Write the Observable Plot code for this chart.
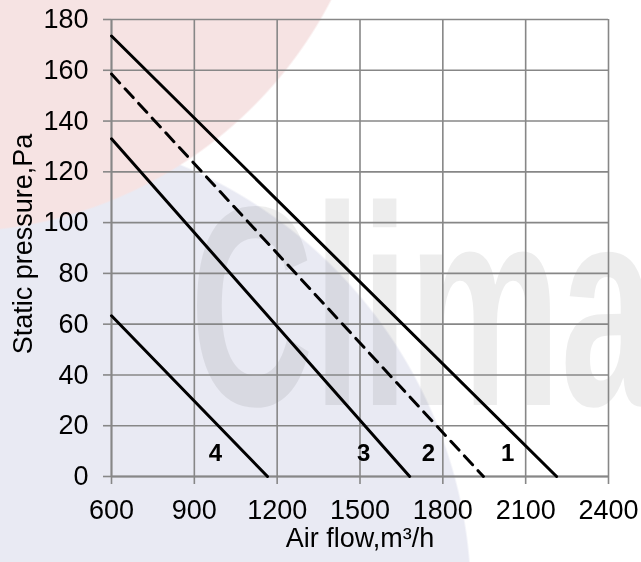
<!DOCTYPE html>
<html>
<head>
<meta charset="utf-8">
<script src="https://cdn.jsdelivr.net/npm/d3@7"></script>
<script src="https://cdn.jsdelivr.net/npm/@observablehq/plot@0.6"></script>
<style>
  html, body { margin: 0; padding: 0; background: #fff; }
  #wrap {
    position: relative; width: 641px; height: 562px; overflow: hidden;
    background:
      radial-gradient(circle at -50px -197px, #f6e3e3 0 428px, rgba(255,255,255,0) 430px),
      radial-gradient(circle at 0px 600px, #e9eaf3 0 470px, rgba(255,255,255,0) 472px),
      #fff;
  }
  #wm { position: absolute; left: 0; top: 0; }
  #chart { position: absolute; left: 0; top: 0; }
</style>
</head>
<body>
<div id="wrap">
  <canvas id="wm" width="641" height="562"></canvas>
  <div id="chart"></div>
</div>
<script>
// Curve identifiers
const series = ["1", "2", "3", "4"];
// Each curve: straight line from start point to end point (flow m3/h, pressure Pa)
const startFlow = [600, 600, 600, 600];
const startPressure = [173.5, 158.5, 133, 63.3];
const endFlow = [2212, 1947, 1680, 1165];
const endPressure = [0, 0, 0, 0];
const dashedCurve = [false, true, false, false];
// Curve number labels
const labelFlow = [2035, 1748, 1513, 976];
const labelPressure = [9, 9, 9, 9];
// Axes
const xTicks = [600, 900, 1200, 1500, 1800, 2100, 2400];
const yTicks = [0, 20, 40, 60, 80, 100, 120, 140, 160, 180];
const xTitle = "Air flow,m³/h";
const yTitle = "Static pressure,Pa";

// Background watermark (logo image in the reference), painted as pixels
(function () {
  const c = document.getElementById("wm").getContext("2d");
  c.save();
  c.translate(190, 405);
  c.scale(0.6, 1);
  c.font = 'bold 285px "Liberation Sans", Arial, sans-serif';
  c.fillStyle = "rgba(0,0,0,0.07)";
  c.textBaseline = "alphabetic";
  c.fillText("Climar", 0, 0);
  c.restore();
})();

const points = series.flatMap((s, i) => [
  {s, flow: startFlow[i], p: startPressure[i], dashed: dashedCurve[i]},
  {s, flow: endFlow[i], p: endPressure[i], dashed: dashedCurve[i]}
]);
const labels = series.map((s, i) => ({s, flow: labelFlow[i], p: labelPressure[i]}));

const gridColor = "#878787";
const fs = 27;

const chart = Plot.plot({
  width: 641,
  height: 562,
  marginLeft: 111,
  marginRight: 33,
  marginTop: 19,
  marginBottom: 86,
  style: {
    background: "transparent",
    fontFamily: '"Liberation Sans", Arial, sans-serif',
    fontSize: fs + "px",
    color: "#000"
  },
  x: {domain: [600, 2400]},
  y: {domain: [0, 180]},
  marks: [
    Plot.gridX(xTicks, {stroke: gridColor, strokeOpacity: 1, strokeWidth: 1.6}),
    Plot.gridY(yTicks, {stroke: gridColor, strokeOpacity: 1, strokeWidth: 1.6}),
    Plot.ruleY([0], {stroke: gridColor, strokeWidth: 1.8}),
    Plot.ruleX([600], {stroke: gridColor, strokeWidth: 1.8}),
    Plot.axisX(xTicks, {tickSize: 8, tickPadding: 15, stroke: gridColor, strokeWidth: 1.6, fill: "#000", fontSize: fs, tickFormat: d => String(d), label: null}),
    Plot.axisY(yTicks, {tickSize: 8, tickPadding: 15, stroke: gridColor, strokeWidth: 1.6, fill: "#000", fontSize: fs, tickFormat: d => String(d), label: null}),
    Plot.line(points.filter(d => !d.dashed), {x: "flow", y: "p", z: "s", stroke: "#000", strokeWidth: 3}),
    Plot.line(points.filter(d => d.dashed), {x: "flow", y: "p", z: "s", stroke: "#000", strokeWidth: 3, strokeDasharray: "12,8"}),
    Plot.text(labels, {x: "flow", y: "p", text: "s", fontWeight: "bold", fontSize: 24, fill: "#000"}),
    Plot.text([xTitle], {frameAnchor: "bottom", textAnchor: "middle", dy: 70.4, fontSize: fs, fill: "#000"}),
    Plot.text([yTitle], {frameAnchor: "left", textAnchor: "middle", dx: -88.1, dy: -4, rotate: -90, fontSize: fs, fill: "#000"})
  ]
});
document.getElementById("chart").appendChild(chart);
</script>
</body>
</html>
